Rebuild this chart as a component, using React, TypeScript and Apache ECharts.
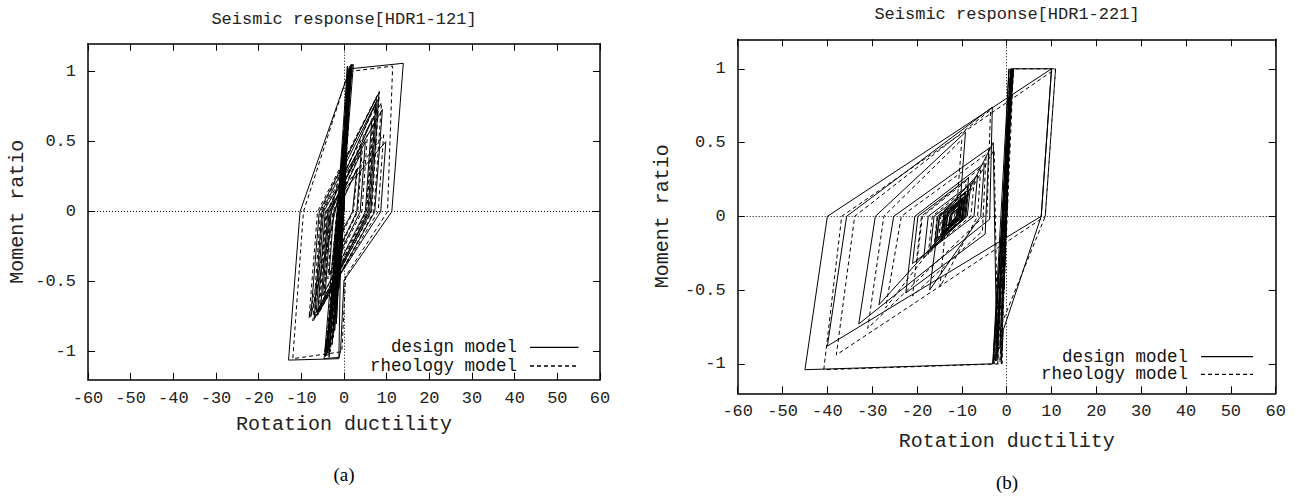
import React, { useEffect, useRef } from "react";
import * as echarts from "echarts";

// ---------- data ----------
const X_MIN = -60;
const X_MAX = 60;
const X_STEP = 10;
const Y_MIN = -1.2;
const Y_MAX = 1.2;
const Y_TICKS = [-1, -0.5, 0, 0.5, 1];

const PANEL_TITLES = ["Seismic response[HDR1-121]", "Seismic response[HDR1-221]"];
const PANEL_LABELS = ["(a)", "(b)"];
const X_NAME = "Rotation ductility";
const Y_NAME = "Moment ratio";
const SERIES_NAMES = ["design model", "rheology model"];

// (a) HDR1-121, design model (solid)
const A_DESIGN = [
  [0, 0], [0.6, 0.45], [-0.4, -0.2], [-1.2, -0.55], [0.3, 0.3], [1.0, 0.8], [-0.2, 0.1], [-2.0, -0.75],
  [-0.6, 0.05], [1.3, 0.98], [0.2, 0.35], [-2.8, -0.95], [-1.0, 0.0], [1.5, 1.04], [0.6, 0.55], [-3.5, -1.04],
  [-1.5, -0.2], [1.6, 1.05], [0.9, 0.7], [-1.8, -0.8], [0.4, 0.6], [-0.5, -0.3], [1.1, 0.9], [-2.2, -0.85],
  [-0.3, 0.2], [1.4, 1.0], [-3.8, -1.0], [0.8, 1.04], [-0.2, 0.3], [-2.6, -0.6], [1.9, 1.05], [0.5, 0.5],
  [-4.2, -1.03], [-1.5, -0.1], [1.2, 1.02],
  [13.9, 1.06], [11.2, 0], [0, -0.49], [-0.8, -0.99], [-1.2, -1.05], [-13, -1.06], [-10.3, 0], [1.7, 1.05],
  [2.2, 1.05], [0.5, 0.4], [-0.8, -0.3], [-4.7, -1.05], [-1.2, -1.04], [-0.9, -0.5], [1.2, 0.9], [1.8, 1.05],
  [0.4, 0.4], [-1.6, -0.5], [-4.5, -1.0], [-3.0, -0.45], [-1.0, 0.2], [1.0, 0.95], [0.2, 0.3],
  [-7.8, -0.75], [-5.8, 0], [8.2, 0.85], [6.3, 0], [-7.0, -0.77], [-5.2, 0], [7.8, 0.8], [6.0, 0],
  [-6.5, -0.72], [-4.8, 0], [9.0, 0.73], [7.2, 0], [-5.5, -0.7], [-3.8, 0], [7.5, 0.78], [5.6, 0],
  [-6.2, -0.74], [-4.4, 0], [9.8, 0.5], [8.6, 0], [-4.5, -0.62], [-3.0, 0], [6.5, 0.65], [5.0, 0],
  [-5.0, -0.6], [-3.5, 0], [5.0, 0.5], [3.8, 0], [-3.5, -0.45], [-2.4, 0], [4.0, 0.42], [3.0, 0],
  [-2.5, -0.35], [-1.5, 0], [3.0, 0.3], [2.0, 0], [-1.5, -0.2], [0, 0],
];

// (a) HDR1-121, rheology model (dashed)
const A_RHEOLOGY = [
  [0, 0], [0.5, 0.5], [-0.8, -0.4], [1.2, 0.9], [-2.5, -0.9], [0.8, 0.7], [-3.2, -1.0], [-1.2, -0.1], [1.4, 1.04],
  [-3.6, -1.02], [1.0, 1.03], [-1.0, 0.0], [-2.8, -0.7], [1.6, 1.04], [0.2, 0.4], [-4.4, -1.04], [-1.8, -0.15],
  [1.0, 1.0],
  [11.4, 1.04], [10.2, 0], [0.4, -0.46], [-0.5, -1.0], [-12, -1.05], [-9.5, 0], [1.4, 1.03],
  [1.0, 0.6], [-1.5, -0.6], [-4.0, -1.03], [-2.0, -0.3], [0.8, 0.85], [-0.5, -0.1], [-2.2, -0.7], [0.5, 0.5],
  [-8.2, -0.76], [-6.2, 0], [8.3, 0.86], [6.5, 0], [-7.3, -0.78], [-5.5, 0], [7.6, 0.82], [5.8, 0],
  [-6.8, -0.74], [-5.0, 0], [8.8, 0.78], [7.0, 0], [-5.8, -0.72], [-4.0, 0], [7.2, 0.75], [5.3, 0],
  [-6.0, -0.7], [-4.2, 0], [9.3, 0.55], [8.0, 0], [-4.8, -0.64], [-3.2, 0], [6.8, 0.68], [5.2, 0],
  [-4.6, -0.58], [-3.3, 0], [5.5, 0.55], [4.2, 0], [-3.8, -0.48], [-2.6, 0], [4.3, 0.45], [3.2, 0],
  [-2.8, -0.38], [-1.7, 0], [3.2, 0.32], [2.2, 0], [-1.6, -0.22], [0, 0],
];

// (b) HDR1-221, design model (solid)
const B_DESIGN = [
  [0, 0], [0.5, 0.55], [-0.6, -0.5], [0.9, 0.9], [-1.5, -0.9], [1.2, 1.0], [0.3, 0.5], [-2.5, -0.98],
  [-1.0, -0.2], [0.6, 0.85], [1.0, 1.0], [10, 1.0], [7.7, 0], [-0.75, -0.77], [-1.2, -1.0], [-0.3, 0],
  [1.0, 1.0], [-0.5, 0.2], [-3.1, -1.0], [0.5, 1.0], [-0.5, 0.3], [-2.2, -0.98], [1.5, 1.0], [0.2, 0.6],
  [-3.0, -1.0],
  [-45, -1.04], [-40, 0], [10, 1.0], [7.7, 0], [-40, -0.88],
  [-35.7, 0], [-3.2, 0.74], [-3.8, -0.02], [-33, -0.73],
  [-29.3, 0], [-9.2, 0.57], [-10.6, 0], [-28.5, -0.6],
  [-25.2, 0], [-4.0, 0.46], [-4.8, -0.12], [-22.5, -0.52],
  [-20.5, 0], [-5.0, 0.36], [-5.8, 0], [-17.2, -0.5],
  [-15.0, 0], [-6.5, 0.28], [-7.3, 0], [-21, -0.32],
  [-19.8, 0], [-8.5, 0.26], [-9.3, 0], [-18.5, -0.28],
  [-17.5, 0], [-8.0, 0.22], [-8.8, 0], [-17, -0.22],
  [-16.2, 0], [-8.5, 0.18], [-9.1, 0], [-16, -0.18],
  [-15.4, 0], [-9.0, 0.14], [-9.6, 0], [-15.5, -0.15],
  [-15.0, 0], [-9.5, 0.12], [-10.0, 0], [-14.5, -0.12],
  [-14.0, 0], [-10.0, 0.1], [-10.4, 0], [-14.0, -0.1],
  [-13.6, 0], [-10.5, 0.08], [-10.8, 0], [-13.5, -0.07],
  [-13.2, 0], [-11.0, 0.05], [-11.2, 0], [-14.2, -0.13], [-13.6, 0.02], [-9.6, 0.11], [-10.1, -0.03],
  [-13.1, -0.1], [-12.7, 0], [-10.2, 0.07], [-10.6, -0.01], [-12.9, -0.06], [-12.4, 0.02], [-10.8, 0.05],
  [-11.1, 0], [-12.3, -0.04], [-14.6, -0.16], [-14.0, 0.03], [-9.2, 0.16], [-9.8, -0.02], [-13.6, -0.12],
  [-13.1, 0.03], [-9.9, 0.12], [-10.4, 0], [-12.6, -0.08], [-12.1, 0.03], [-10.5, 0.09], [-10.9, 0.01],
  [-11.8, -0.03],
  [-3.0, 0.5], [-2.2, -0.95], [0.5, 0.8], [0, 0],
];

// (b) HDR1-221, rheology model (dashed)
const B_RHEOLOGY = [
  [0, 0], [0.6, 0.5], [-0.8, -0.55], [1.0, 0.92], [-1.2, -0.95], [1.5, 1.0], [0.5, 0.6], [-2.0, -1.0],
  [-0.5, 0.1], [0.5, 0.75], [1.4, 1.0], [10.9, 1.0], [8.6, 0], [-1.0, -0.72], [-1.5, -0.99], [0, 0.1],
  [0.8, 1.0], [-2.8, -1.0], [0.9, 1.0], [-0.8, 0.1], [-1.0, -1.0],
  [-40.8, -1.04], [-36.8, 0], [10.9, 1.0], [8.6, 0], [-38, -0.94],
  [-33.9, 0], [-3.6, 0.72], [-4.4, 0.02], [-31, -0.76],
  [-27.4, 0], [-10.0, 0.52], [-11.3, 0], [-27, -0.62],
  [-23.5, 0], [-4.6, 0.42], [-5.4, -0.1], [-21, -0.54],
  [-19.0, 0], [-5.8, 0.33], [-6.5, 0], [-14.9, -0.48],
  [-13.4, 0], [-7.2, 0.25], [-8.0, 0], [-20, -0.3],
  [-18.8, 0], [-9.0, 0.24], [-9.8, 0], [-17.5, -0.26],
  [-16.6, 0], [-8.6, 0.2], [-9.3, 0], [-16.2, -0.2],
  [-15.5, 0], [-9.4, 0.16], [-10.0, 0], [-15.2, -0.16],
  [-14.7, 0], [-9.8, 0.13], [-10.3, 0], [-14.8, -0.13],
  [-14.3, 0], [-10.3, 0.1], [-10.7, 0], [-14.2, -0.1],
  [-13.8, 0], [-10.8, 0.07], [-11.1, 0], [-13.6, -0.07], [-13.3, 0], [-11.4, 0.04],
  [-11.8, -0.02], [-13.9, -0.11], [-13.4, 0.01], [-9.9, 0.09], [-10.4, -0.02], [-12.8, -0.08], [-12.3, 0.01],
  [-10.6, 0.06], [-11.0, -0.01], [-14.4, -0.14], [-13.8, 0.02], [-9.5, 0.13], [-10.0, -0.01], [-12.5, -0.06],
  [-2.8, 0.45], [-2.0, -0.9], [0.8, 0.85], [0, 0],
];

const PANEL_DATA = [
  [A_DESIGN, A_RHEOLOGY],
  [B_DESIGN, B_RHEOLOGY],
];

// ---------- layout / style ----------
const W = 1299;
const H = 496;
const MONO = "'Liberation Mono', 'DejaVu Sans Mono', monospace";
const SERIF = "'Liberation Serif', 'DejaVu Serif', serif";

const LAYOUT = [
  {
    grid: { left: 88, top: 43.7, width: 512, height: 336 },
    titleX: 344, titleY: 11,
    xNameGap: 35, yNameGap: 61,
    legend: { textRight: 517, x1: 530, x2: 578.5, rows: [347.3, 366] },
    labelY: 465,
  },
  {
    grid: { left: 737.7, top: 39.3, width: 538, height: 354 },
    titleX: 1007, titleY: 6,
    xNameGap: 38, yNameGap: 65,
    legend: { textRight: 1188, x1: 1201, x2: 1253, rows: [356.7, 374.3] },
    labelY: 473,
  },
];

const DASH = [4, 3];

function buildOption() {
  const grid: any[] = [];
  const xAxis: any[] = [];
  const yAxis: any[] = [];
  const series: any[] = [];
  const title: any[] = [];
  const graphic: any[] = [];

  const lineCol = "#000";
  const tickLabel = { fontFamily: MONO, fontSize: 17, color: "#222" };

  LAYOUT.forEach((L, i) => {
    grid.push({ ...L.grid, containLabel: false });
    const baseX = {
      type: "value",
      gridIndex: i,
      min: X_MIN,
      max: X_MAX,
      interval: X_STEP,
      splitLine: { show: false },
      axisLine: { show: true, onZero: false, lineStyle: { color: lineCol, width: 1.5 } },
      axisTick: { show: true, inside: true, length: 7, lineStyle: { color: lineCol, width: 1 } },
    };
    xAxis.push({
      ...baseX,
      position: "bottom",
      axisLabel: { ...tickLabel, margin: 10 },
      name: X_NAME,
      nameLocation: "middle",
      nameGap: L.xNameGap,
      nameTextStyle: { fontFamily: MONO, fontSize: 20, color: "#222" },
    });
    xAxis.push({ ...baseX, position: "top", axisLabel: { show: false } });

    const baseY = {
      type: "value",
      gridIndex: i,
      min: Y_MIN,
      max: Y_MAX,
      splitLine: { show: false },
      axisLine: { show: true, onZero: false, lineStyle: { color: lineCol, width: 1.5 } },
      axisTick: {
        show: true, inside: true, length: 7, customValues: Y_TICKS,
        lineStyle: { color: lineCol, width: 1 },
      },
    };
    yAxis.push({
      ...baseY,
      position: "left",
      axisLabel: { ...tickLabel, margin: 12, customValues: Y_TICKS },
      name: Y_NAME,
      nameLocation: "middle",
      nameGap: L.yNameGap,
      nameTextStyle: { fontFamily: MONO, fontSize: 20, color: "#222" },
    });
    yAxis.push({ ...baseY, position: "right", axisLabel: { show: false } });

    const [design, rheo] = PANEL_DATA[i];
    series.push({
      name: SERIES_NAMES[0],
      type: "line",
      xAxisIndex: 2 * i,
      yAxisIndex: 2 * i,
      data: design,
      symbol: "none",
      showSymbol: false,
      lineStyle: { color: "#000", width: 1, type: "solid" },
      itemStyle: { color: "#000" },
      z: 3,
      markLine: {
        silent: true,
        symbol: ["none", "none"],
        label: { show: false },
        lineStyle: { color: "#000", width: 1, type: [1, 2] },
        data: [{ xAxis: 0 }, { yAxis: 0 }],
      },
    });
    series.push({
      name: SERIES_NAMES[1],
      type: "line",
      xAxisIndex: 2 * i,
      yAxisIndex: 2 * i,
      data: rheo,
      symbol: "none",
      showSymbol: false,
      lineStyle: { color: "#000", width: 1, type: DASH },
      itemStyle: { color: "#000" },
      z: 2,
    });

    title.push({
      text: PANEL_TITLES[i],
      left: L.titleX,
      top: L.titleY,
      textAlign: "center",
      padding: 0,
      textStyle: { fontFamily: MONO, fontSize: 17, fontWeight: "normal", color: "#222" },
    });

    // key (legend) inside the plot box, text to the left of the line sample
    SERIES_NAMES.forEach((nm, k) => {
      const y = L.legend.rows[k];
      graphic.push({
        type: "text",
        x: L.legend.textRight,
        y,
        z: 10,
        style: {
          text: nm,
          font: `17.5px ${MONO}`,
          fill: "#111",
          align: "right",
          verticalAlign: "middle",
          textAlign: "right",
          textVerticalAlign: "middle",
        },
      });
      graphic.push({
        type: "line",
        z: 10,
        shape: { x1: L.legend.x1, y1: y, x2: L.legend.x2, y2: y },
        style: { stroke: "#000", lineWidth: 1.3, lineDash: k === 0 ? null : DASH },
      });
    });

    graphic.push({
      type: "text",
      x: L.titleX,
      y: L.labelY,
      style: {
        text: PANEL_LABELS[i],
        font: `19px ${SERIF}`,
        fill: "#000",
        align: "center",
        verticalAlign: "top",
        textAlign: "center",
        textVerticalAlign: "top",
      },
    });
  });

  return {
    animation: false,
    backgroundColor: "#fff",
    title,
    grid,
    xAxis,
    yAxis,
    series,
    graphic,
  };
}

export default function App() {
  const ref = useRef<HTMLDivElement>(null);
  useEffect(() => {
    const chart = echarts.init(ref.current as HTMLDivElement, undefined, { renderer: "svg" });
    chart.setOption(buildOption() as any);
    return () => chart.dispose();
  }, []);
  return (
    <div
      ref={ref}
      style={{ position: "fixed", left: 0, top: 0, width: W, height: H, background: "#fff" }}
    />
  );
}
